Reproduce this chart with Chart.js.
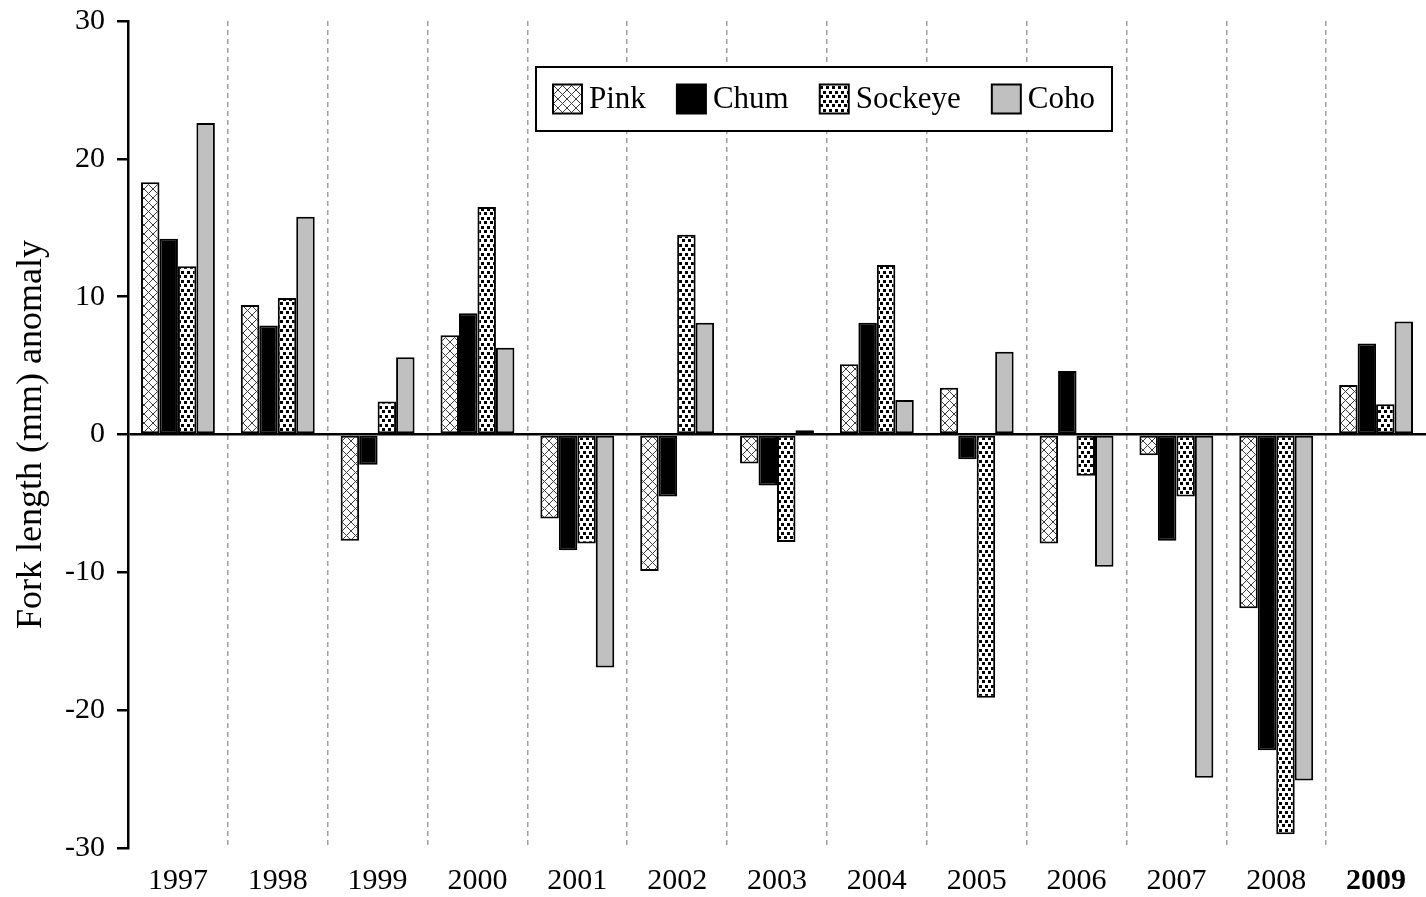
<!DOCTYPE html>
<html>
<head>
<meta charset="utf-8">
<title>Fork length anomaly</title>
<script src="https://cdn.jsdelivr.net/npm/chart.js@4/dist/chart.umd.min.js"></script>
<style>
  html, body { margin: 0; padding: 0; background: #fff; }
</style>
</head>
<body>
<canvas id="chart" width="1426" height="897"></canvas>
<script>
// Survey years and fork-length anomalies (mm) for each salmon species
const years = ['1997', '1998', '1999', '2000', '2001', '2002', '2003', '2004', '2005', '2006', '2007', '2008', '2009'];
const pinkAnomaly    = [18.3, 9.4, -7.7, 7.2, -6.1, -9.9, -2.1, 5.1, 3.4, -7.9, -1.5, -12.6, 3.6];
const chumAnomaly    = [14.2, 7.9, -2.2, 8.8, -8.4, -4.5, -3.7, 8.1, -1.8, 4.6, -7.7, -22.9, 6.6];
const sockeyeAnomaly = [12.2, 9.9, 2.4, 16.5, -7.9, 14.5, -7.8, 12.3, -19.1, -3.0, -4.5, -29.0, 2.2];
const cohoAnomaly    = [22.6, 15.8, 5.6, 6.3, -16.9, 8.1, 0.3, 2.5, 6.0, -9.6, -24.9, -25.1, 8.2];
const speciesNames   = ['Pink', 'Chum', 'Sockeye', 'Coho'];
const yRange = { min: -30, max: 30, step: 10 };
const highlightYear = '2009';

const SERIF = '"Liberation Serif", "Times New Roman", Times, serif';
Chart.defaults.font.family = SERIF;
Chart.defaults.color = '#000';

// Fill patterns: cross-hatch for pink, stippled squares for sockeye
function makePattern(w, h, paint) {
  const tile = document.createElement('canvas');
  tile.width = w; tile.height = h;
  const g = tile.getContext('2d');
  g.fillStyle = '#fff';
  g.fillRect(0, 0, w, h);
  paint(g, w, h);
  return document.getElementById('chart').getContext('2d').createPattern(tile, 'repeat');
}
const crossHatch = makePattern(9, 9, (g, w, h) => {
  g.strokeStyle = '#3c3c3c';
  g.lineWidth = 1;
  g.beginPath();
  g.moveTo(-1, -1); g.lineTo(w + 1, h + 1);
  g.moveTo(w + 1, -1); g.lineTo(-1, h + 1);
  g.stroke();
});
const stipple = makePattern(6, 9, (g) => {
  g.fillStyle = '#000';
  g.fillRect(1, 1, 3, 3);
  g.fillRect(4, 5, 3, 3);
  g.fillRect(-2, 5, 3, 3);
});

const fills = [crossHatch, '#000000', stipple, '#c0c0c0'];
const seriesValues = [pinkAnomaly, chumAnomaly, sockeyeAnomaly, cohoAnomaly];

const datasets = speciesNames.map((name, i) => ({
  label: name,
  data: seriesValues[i],
  backgroundColor: fills[i],
  borderColor: '#000',
  borderWidth: 2,
  borderSkipped: false,
  categoryPercentage: 0.74,
  barPercentage: 1.0
}));

// Boxed legend drawn inside the plot, near the top
const boxedLegend = {
  id: 'boxedLegend',
  afterDraw(chart) {
    const ctx = chart.ctx;
    const box = { x: 536, y: 67, w: 576, h: 64 };
    const sw = 29, gapText = 7, pad = 17;
    ctx.save();
    ctx.font = '31px ' + SERIF;
    const widths = chart.data.datasets.map(d => ctx.measureText(d.label).width);
    const used = widths.reduce((a, b) => a + b, 0) + widths.length * (sw + gapText);
    const gap = (box.w - 2 * pad - used) / (widths.length - 1);

    ctx.fillStyle = '#fff';
    ctx.fillRect(box.x, box.y, box.w, box.h);
    ctx.lineWidth = 2;
    ctx.strokeStyle = '#000';
    ctx.strokeRect(box.x, box.y, box.w, box.h);

    let x = box.x + pad;
    const cy = box.y + box.h / 2;
    chart.data.datasets.forEach((d, i) => {
      ctx.fillStyle = d.backgroundColor;
      ctx.fillRect(x, cy - sw / 2, sw, sw);
      ctx.lineWidth = 2;
      ctx.strokeStyle = '#000';
      ctx.strokeRect(x, cy - sw / 2, sw, sw);
      ctx.fillStyle = '#000';
      ctx.textBaseline = 'middle';
      ctx.textAlign = 'left';
      ctx.fillText(d.label, x + sw + gapText, cy + 1);
      x += sw + gapText + widths[i] + gap;
    });
    ctx.restore();
  }
};

const TRANSPARENT = 'rgba(0,0,0,0)';

new Chart(document.getElementById('chart'), {
  type: 'bar',
  data: { labels: years, datasets },
  plugins: [boxedLegend],
  options: {
    responsive: false,
    animation: false,
    devicePixelRatio: 1,
    layout: { padding: { top: 21, right: 0, bottom: 0, left: 0 } },
    plugins: {
      legend: { display: false },
      tooltip: { enabled: false }
    },
    scales: {
      x: {
        grid: {
          offset: true,
          drawTicks: false,
          lineWidth: 1.5,
          color: (c) => (c.type !== 'tick' || c.index === 0) ? TRANSPARENT : '#a0a0a0'
        },
        border: { display: false, dash: [5, 4] },
        ticks: {
          padding: 15,
          font: (c) => ({
            family: SERIF,
            size: 30,
            weight: (c.tick && c.tick.label === highlightYear) ? 'bold' : 'normal'
          })
        },
        afterFit(scale) { scale.height = 49; }
      },
      y: {
        min: yRange.min,
        max: yRange.max,
        z: 1,
        ticks: {
          stepSize: yRange.step,
          padding: 12,
          font: { family: SERIF, size: 30 }
        },
        grid: {
          lineWidth: 2.5,
          tickWidth: 2.5,
          tickLength: 11,
          tickColor: '#000',
          color: (c) => (c.tick && c.tick.value === 0) ? '#000' : TRANSPARENT
        },
        border: { display: true, color: '#000', width: 2.5 },
        title: {
          display: true,
          text: 'Fork length (mm) anomaly',
          font: { family: SERIF, size: 36 },
          padding: { top: 10, bottom: 0 }
        },
        afterFit(scale) {
          scale.width = 128;
          scale.paddingTop = 0;
          scale.paddingBottom = 0;
        }
      }
    }
  }
});
</script>
</body>
</html>
